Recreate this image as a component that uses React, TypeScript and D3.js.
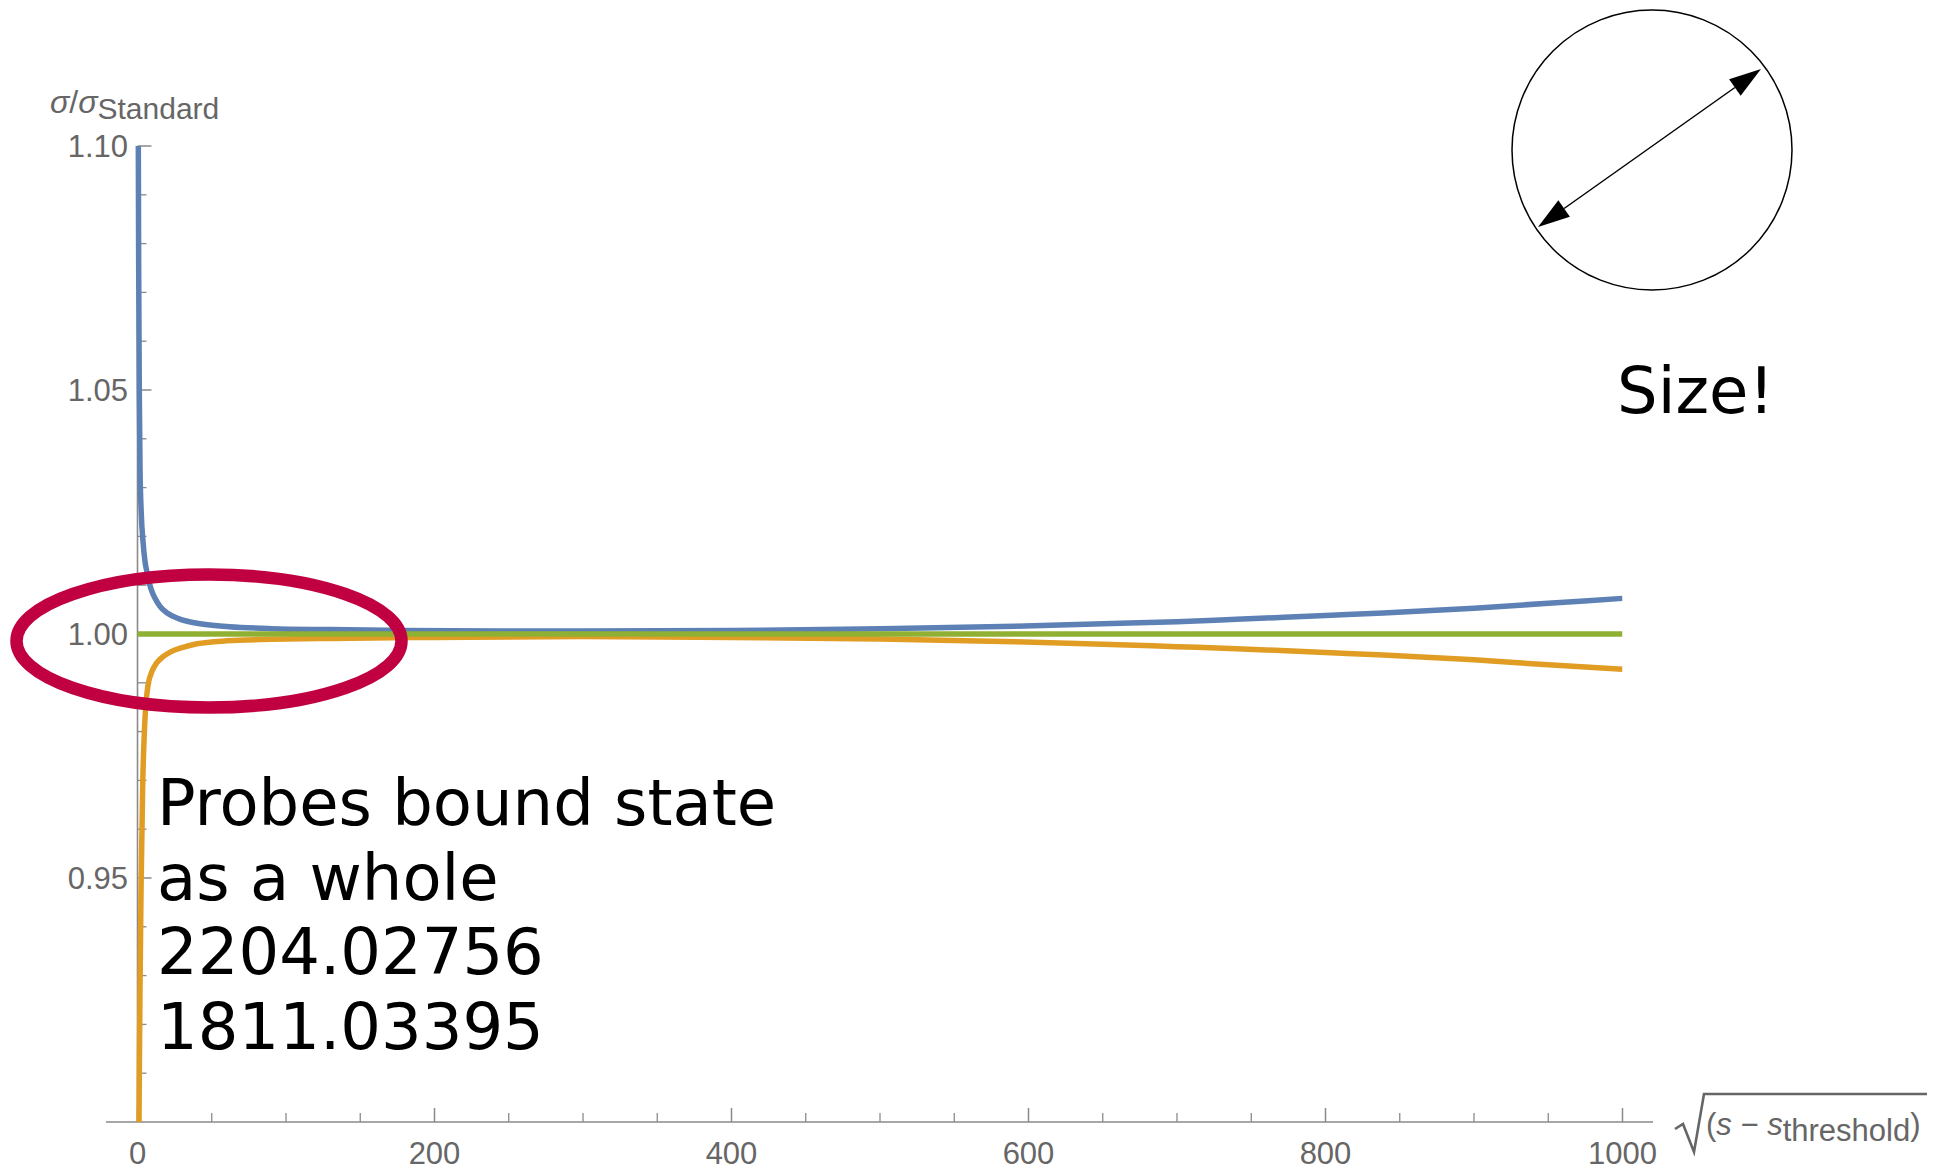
import React from "react";
import * as d3 from "d3";

// Cross-section ratio curves sigma/sigma_Standard versus sqrt(s - s_threshold)
const blueX = [0.3, 0.5, 0.8, 1.2, 1.7, 2.5, 3.7, 5, 6.5, 8, 10, 12, 15, 20, 28, 40, 62, 90, 130, 180, 244, 300, 400, 500, 591, 650, 700, 740, 800, 839, 900, 950, 1000];
const blueY = [1.14, 1.105, 1.075, 1.05, 1.034, 1.025, 1.019, 1.015, 1.0125, 1.0104, 1.0085, 1.0072, 1.0057, 1.0043, 1.0031, 1.0022, 1.0015, 1.0011, 1.0009, 1.0007, 1.0006, 1.0006, 1.0007, 1.0011, 1.0016, 1.0021, 1.0025, 1.003, 1.0038, 1.0043, 1.0053, 1.0063, 1.0073];

const orangeX = [0.8, 1.0, 1.3, 1.7, 2.4, 3.5, 5, 7, 10, 13, 17, 22, 30, 40, 60, 90, 130, 200, 300, 400, 500, 591, 650, 700, 740, 800, 839, 900, 950, 1000];
const orangeY = [0.88, 0.899, 0.913, 0.928, 0.948, 0.969, 0.9824, 0.9893, 0.9925, 0.9941, 0.9953, 0.9963, 0.9972, 0.998, 0.9986, 0.9989, 0.9991, 0.9993, 0.9995, 0.9993, 0.999, 0.9984, 0.9979, 0.9974, 0.997, 0.9962, 0.9957, 0.9947, 0.9937, 0.9928];

const greenX = [0, 1000];
const greenY = [1, 1];

const xMajorTicks = [0, 200, 400, 600, 800, 1000];
const yMajorTicks = [0.95, 1.0, 1.05, 1.1];
const yTickLabels = ["0.95", "1.00", "1.05", "1.10"];

const annotationLines = ["Probes bound state", "as a whole", "2204.02756", "1811.03395"];

const W = 1942;
const H = 1171;

const AXIS = "#8a8a8a";
const LABEL = "#666666";
const TICK_FONT = "'Liberation Sans', Arimo, Helvetica, Arial, sans-serif";
const NOTE_FONT = "'DejaVu Sans', Verdana, sans-serif";

function arrowHead(tip: [number, number], from: [number, number], len: number, half: number) {
  const dx = tip[0] - from[0];
  const dy = tip[1] - from[1];
  const d = Math.hypot(dx, dy);
  const ux = dx / d;
  const uy = dy / d;
  const bx = tip[0] - ux * len;
  const by = tip[1] - uy * len;
  const px = -uy;
  const py = ux;
  return {
    points: `${tip[0]},${tip[1]} ${bx + px * half},${by + py * half} ${bx - px * half},${by - py * half}`,
    base: [bx, by] as [number, number],
  };
}

export default function App() {
  const x = d3.scaleLinear().domain([0, 1000]).range([137.5, 1622.5]);
  const y = d3.scaleLinear().domain([0.9, 1.1]).range([1122, 146]);

  const line = d3
    .line<[number, number]>()
    .x((d) => x(d[0]))
    .y((d) => y(d[1]))
    .curve(d3.curveMonotoneX);

  const blue = line(blueX.map((v, i) => [v, blueY[i]] as [number, number])) || "";
  const orange = line(orangeX.map((v, i) => [v, orangeY[i]] as [number, number])) || "";
  const green = line(greenX.map((v, i) => [v, greenY[i]] as [number, number])) || "";

  const xMinor = d3.range(0, 1001, 50).filter((v) => !xMajorTicks.includes(v));
  const yMinor = d3
    .range(91, 110, 1)
    .map((v) => v / 100)
    .filter((v) => !yMajorTicks.some((m) => Math.abs(m - v) < 1e-9));

  // Size sketch: circle with a double-headed diameter arrow
  const cx = 1652;
  const cy = 150;
  const r = 140;
  const a1: [number, number] = [1538, 227];
  const a2: [number, number] = [1761, 69];
  const h1 = arrowHead(a1, a2, 32, 10);
  const h2 = arrowHead(a2, a1, 32, 10);

  return (
    <svg
      width={W}
      height={H}
      viewBox={`0 0 ${W} ${H}`}
      style={{ position: "absolute", left: 0, top: 0, display: "block", background: "#fff" }}
    >
      <defs>
        <clipPath id="plotClip">
          <rect x={x(0) - 6} y={y(1.1)} width={x(1000) - x(0) + 6} height={y(0.9) - y(1.1)} />
        </clipPath>
      </defs>
      <rect x={0} y={0} width={W} height={H} fill="#fff" />

      {/* axes */}
      <line x1={106} x2={1653} y1={y(0.9)} y2={y(0.9)} stroke={AXIS} strokeWidth={1.6} />
      <line x1={x(0)} x2={x(0)} y1={y(0.9)} y2={y(1.1)} stroke={AXIS} strokeWidth={1.6} />

      {xMajorTicks.map((t) => (
        <g key={"xm" + t}>
          <line x1={x(t)} x2={x(t)} y1={y(0.9)} y2={y(0.9) - 14} stroke={AXIS} strokeWidth={1.5} />
          <text
            x={x(t)}
            y={1164}
            textAnchor="middle"
            fontFamily={TICK_FONT}
            fontSize={31}
            fill={LABEL}
          >
            {t}
          </text>
        </g>
      ))}
      {xMinor.map((t) => (
        <line key={"xn" + t} x1={x(t)} x2={x(t)} y1={y(0.9)} y2={y(0.9) - 9} stroke={AXIS} strokeWidth={1.3} />
      ))}

      {yMajorTicks.map((t, i) => (
        <g key={"ym" + t}>
          <line x1={x(0)} x2={x(0) + 14} y1={y(t)} y2={y(t)} stroke={AXIS} strokeWidth={1.5} />
          <text
            x={128}
            y={y(t)}
            dy="0.36em"
            textAnchor="end"
            fontFamily={TICK_FONT}
            fontSize={31}
            fill={LABEL}
          >
            {yTickLabels[i]}
          </text>
        </g>
      ))}
      {yMinor.map((t) => (
        <line key={"yn" + t} x1={x(0)} x2={x(0) + 9} y1={y(t)} y2={y(t)} stroke={AXIS} strokeWidth={1.3} />
      ))}

      {/* y-axis label */}
      <text x={50} y={113} fontFamily={TICK_FONT} fontSize={32} fill={LABEL}>
        <tspan fontStyle="italic">σ</tspan>
        <tspan>/</tspan>
        <tspan fontStyle="italic">σ</tspan>
        <tspan fontSize={30} dy={6}>Standard</tspan>
      </text>

      {/* x-axis label with radical */}
      <path
        d="M1675,1129 L1683,1124 L1694,1152 L1704,1094 L1927,1094"
        fill="none"
        stroke={LABEL}
        strokeWidth={2.6}
        strokeLinejoin="miter"
      />
      <text x={1706} y={1135} fontFamily={TICK_FONT} fontSize={31} fill={LABEL}>
        <tspan>(</tspan>
        <tspan fontStyle="italic">s</tspan>
        <tspan> − </tspan>
        <tspan fontStyle="italic">s</tspan>
        <tspan fontSize={31} dy={6}>threshold</tspan>
        <tspan dy={-6}>)</tspan>
      </text>

      {/* curves */}
      <g clipPath="url(#plotClip)" fill="none" strokeWidth={5.5} strokeLinecap="butt" strokeLinejoin="round">
        <path d={blue} stroke="#5E81B5" />
        <path d={orange} stroke="#E19C24" />
        <path d={green} stroke="#8FB032" />
      </g>

      {/* highlight ellipse */}
      <ellipse cx={209} cy={641} rx={192.5} ry={66.5} fill="none" stroke="#C00040" strokeWidth={12.5} />

      {/* note */}
      <text fontFamily={NOTE_FONT} fontSize={64} fill="#000">
        {annotationLines.map((s, i) => (
          <tspan key={i} x={157} y={825 + i * 74.5}>
            {s}
          </tspan>
        ))}
      </text>

      {/* size sketch */}
      <circle cx={cx} cy={cy} r={r} fill="none" stroke="#000" strokeWidth={1.5} />
      <line x1={h1.base[0]} y1={h1.base[1]} x2={h2.base[0]} y2={h2.base[1]} stroke="#000" strokeWidth={1.5} />
      <polygon points={h1.points} fill="#000" />
      <polygon points={h2.points} fill="#000" />
      <text x={1617} y={413} fontFamily={NOTE_FONT} fontSize={64} fill="#000">
        Size!
      </text>
    </svg>
  );
}
